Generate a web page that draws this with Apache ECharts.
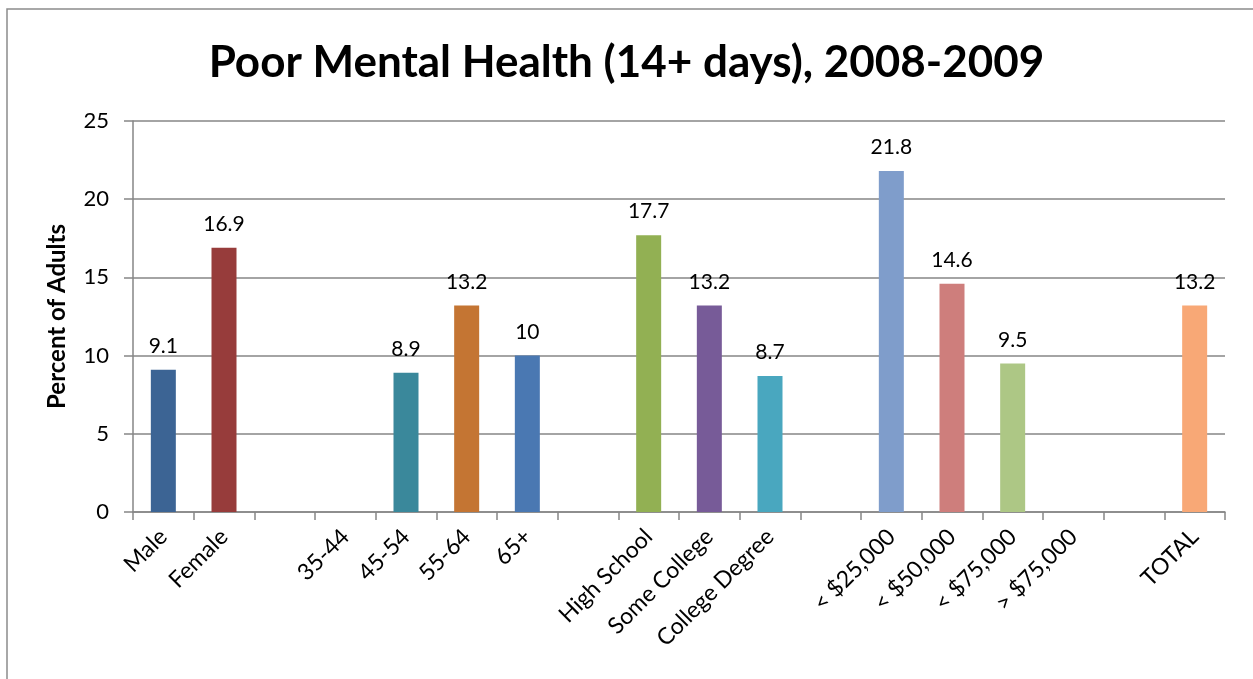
<!DOCTYPE html>
<html>
<head>
<meta charset="utf-8">
<script src="https://cdn.jsdelivr.net/npm/echarts@6/dist/echarts.min.js"></script>
<style>
html,body{margin:0;padding:0;background:#fff;}
#chart{width:1253px;height:679px;}
</style>
</head>
<body>
<div id="chart"></div>
<script>
var categories = ['Male', 'Female', '', '35-44', '45-54', '55-64', '65+', '', 'High School', 'Some College', 'College Degree', '', '< $25,000', '< $50,000', '< $75,000', '> $75,000', '', 'TOTAL'];
var values = [9.1, 16.9, null, null, 8.9, 13.2, 10, null, 17.7, 13.2, 8.7, null, 21.8, 14.6, 9.5, null, null, 13.2];
var barColors = ['#3C6494', '#973C3B', '#999', '#999', '#3A889B', '#C47533', '#4A78B2', '#999', '#92B053', '#775B98', '#49A7BF', '#999', '#7F9DCB', '#CE7E7C', '#ADC785', '#999', '#999', '#F8A876'];
var yTicks = [0, 5, 10, 15, 20, 25];

var FONT = 'Lato, "Open Sans", sans-serif';
var chart = echarts.init(document.getElementById('chart'));
var data = values.map(function (v, i) {
  return { value: v === null ? '-' : v, itemStyle: { color: barColors[i] } };
});
chart.setOption({
  animation: false,
  backgroundColor: '#fff',
  title: {
    text: 'Poor Mental Health (14+ days), 2008-2009',
    left: 'center',
    top: 36,
    textStyle: { fontFamily: FONT, fontWeight: 'bold', fontSize: 44, color: '#000' }
  },
  graphic: [{
    type: 'rect',
    shape: { x: 7, y: 9, width: 1300, height: 700 },
    style: { fill: 'none', stroke: '#8c8c8c', lineWidth: 1.5 },
    silent: true
  }],
  grid: { left: 133, right: 28, top: 121, bottom: 167, containLabel: false },
  xAxis: {
    type: 'category',
    data: categories,
    axisLine: { lineStyle: { color: '#868686', width: 1.5 } },
    axisTick: { show: true, length: 8, lineStyle: { color: '#868686', width: 1.5 } },
    axisLabel: { interval: 0, rotate: 45, margin: 21, fontFamily: FONT, fontSize: 23, color: '#000' }
  },
  yAxis: {
    type: 'value',
    min: yTicks[0],
    max: yTicks[yTicks.length - 1],
    interval: 5,
    name: 'Percent of Adults',
    nameLocation: 'middle',
    nameGap: 64,
    nameTextStyle: { fontFamily: FONT, fontWeight: 'bold', fontSize: 24, color: '#000' },
    axisLine: { show: true, lineStyle: { color: '#868686', width: 1.5 } },
    axisTick: { show: true, length: 9, lineStyle: { color: '#868686', width: 1.5 } },
    axisLabel: { margin: 24, fontFamily: FONT, fontSize: 22, color: '#000' },
    splitLine: { lineStyle: { color: '#868686', width: 1.5 } }
  },
  series: [{
    type: 'bar',
    data: data,
    barWidth: 25,
    label: { show: true, position: 'top', distance: 13, fontFamily: FONT, fontSize: 21, color: '#000' }
  }]
});
</script>
</body>
</html>
